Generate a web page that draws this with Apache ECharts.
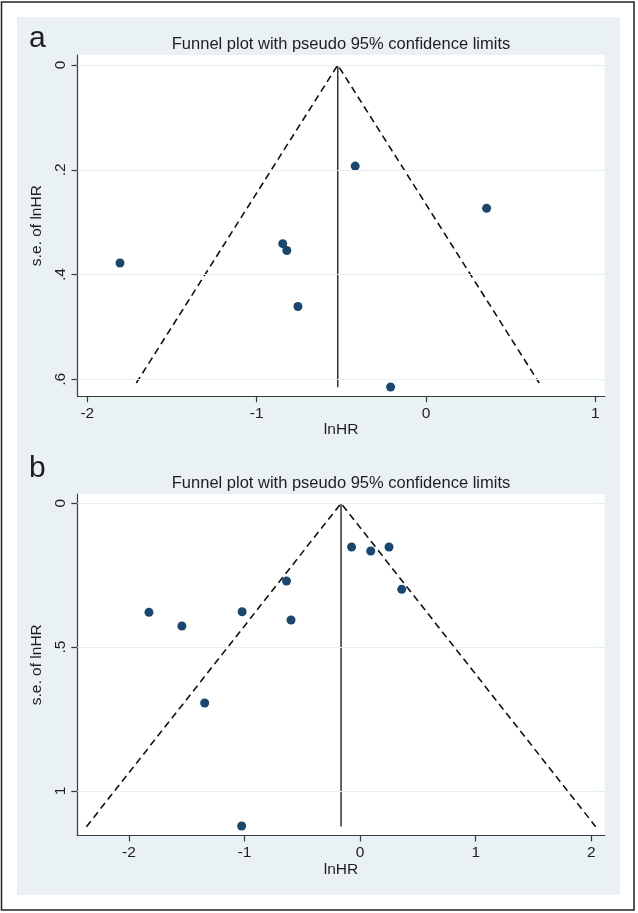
<!DOCTYPE html>
<html>
<head>
<meta charset="utf-8">
<script src="https://cdn.jsdelivr.net/npm/echarts@6/dist/echarts.min.js"></script>
<style>
html,body{margin:0;padding:0;background:#fff;}
#chart{width:638px;height:913px;}
</style>
</head>
<body>
<div id="chart"></div>
<script>
// ---- data ----
const titleText = "Funnel plot with pseudo 95% confidence limits";
const panelLabels = ["a", "b"];
const xName = "lnHR";
const yName = "s.e. of lnHR";

// panel a
const lnhrA = [-0.418, 0.358, -0.846, -0.822, -1.807, -0.756, -0.209];
const seA   = [0.193, 0.2735, 0.341, 0.354, 0.378, 0.461, 0.6146];
const pooledA = -0.521;
const seEdgeA = 0.607;
const seVertA = 0.615;
const xTicksA = [-2, -1, 0, 1];
const yTicksA = [0, 0.2, 0.4, 0.6];

// panel b
const lnhrB = [-0.074, 0.092, 0.250, -0.637, 0.360, -1.827, -1.542, -1.021, -0.598, -1.345, -1.025];
const seB   = [0.152, 0.166, 0.152, 0.270, 0.299, 0.379, 0.4265, 0.377, 0.4056, 0.694, 1.1217];
const pooledB = -0.165;
const seEdgeB = 1.124;
const seVertB = 1.123;
const xTicksB = [-2, -1, 0, 1, 2];
const yTicksB = [0, 0.5, 1];

const z = 1.96;

// ---- chart ----
const chart = echarts.init(document.getElementById('chart'), null, {renderer: 'canvas'});
const FONT = 'Liberation Sans, Arial, sans-serif';
const TXT = '#1e1e1e';
const NAVY = '#1a476f';
const GRIDC = '#e5eef1';

function fmt(v){ if (v === 0) return '0'; let s = String(v); return s.replace(/^0\./, '.').replace(/^-0\./, '-.'); }

function xAxisCfg(idx, min, max, ticks){
  return {
    gridIndex: idx, type: 'value', min: min, max: max,
    name: xName, nameLocation: 'middle', nameGap: 24,
    nameTextStyle: {fontFamily: FONT, fontSize: 15.5, color: TXT},
    axisLine: {show: true, onZero: false, lineStyle: {color: '#3a3a3a', width: 1.2}},
    axisTick: {show: true, length: 6, customValues: ticks, lineStyle: {color: '#3a3a3a', width: 1.2}},
    axisLabel: {show: true, customValues: ticks, margin: 9, fontFamily: FONT, fontSize: 15.5, color: TXT, formatter: fmt},
    splitLine: {show: false}
  };
}
function yAxisCfg(idx, min, max, ticks){
  return {
    gridIndex: idx, type: 'value', min: min, max: max, inverse: true,
    name: yName, nameLocation: 'middle', nameGap: 24, nameRotate: 90,
    nameTextStyle: {fontFamily: FONT, fontSize: 15.5, color: TXT},
    axisLine: {show: true, onZero: false, lineStyle: {color: '#3a3a3a', width: 1.2}},
    axisTick: {show: true, length: 6, customValues: ticks, lineStyle: {color: '#3a3a3a', width: 1.2}},
    axisLabel: {show: true, rotate: 90, customValues: ticks, margin: 9, fontFamily: FONT, fontSize: 15.5, color: TXT, formatter: fmt},
    splitLine: {show: false}
  };
}
function funnelSeries(idx, pooled, seEdge, seVert, lnhr, se, yTicks){
  return [
    {
      type: 'line', xAxisIndex: idx, yAxisIndex: idx, symbol: 'none', silent: true, z: 1,
      data: [],
      markLine: {
        silent: true, symbol: 'none', label: {show: false},
        lineStyle: {color: GRIDC, width: 1.2, type: 'solid'},
        data: yTicks.map(v => ({yAxis: v}))
      }
    },
    {
      type: 'line', xAxisIndex: idx, yAxisIndex: idx, symbol: 'none', silent: true, z: 2,
      lineStyle: {color: '#111', width: 1.6, type: [7, 4.5]},
      data: [[pooled - z * seEdge, seEdge], [pooled, 0], [pooled + z * seEdge, seEdge]]
    },
    {
      type: 'line', xAxisIndex: idx, yAxisIndex: idx, symbol: 'none', silent: true, z: 2,
      lineStyle: {color: '#333', width: 1.5, type: 'solid'},
      data: [[pooled, 0], [pooled, seVert]]
    },
    {
      type: 'scatter', xAxisIndex: idx, yAxisIndex: idx, symbol: 'circle', symbolSize: 9, z: 3,
      itemStyle: {color: NAVY, opacity: 1},
      data: lnhr.map((v, i) => [v, se[i]])
    }
  ];
}

const option = {
  backgroundColor: '#ffffff',
  animation: false,
  graphic: [
    {type: 'rect', z: -10, shape: {x: 1.5, y: 2, width: 632.5, height: 908}, style: {fill: '#ffffff', stroke: '#222', lineWidth: 1.5}},
    {type: 'rect', z: -9, shape: {x: 17, y: 17, width: 603, height: 878}, style: {fill: '#eaf1f4'}},
    {type: 'text', z: 10, style: {text: panelLabels[0], x: 29, y: 54, fontFamily: FONT, fontSize: 30, fill: TXT, textAlign: 'left', textVerticalAlign: 'bottom'}},
    {type: 'text', z: 10, style: {text: panelLabels[1], x: 29, y: 484, fontFamily: FONT, fontSize: 30, fill: TXT, textAlign: 'left', textVerticalAlign: 'bottom'}},
    {type: 'text', z: 10, style: {text: titleText, x: 341, y: 44, fontFamily: FONT, fontSize: 16.5, fill: TXT, textAlign: 'center', textVerticalAlign: 'middle'}},
    {type: 'text', z: 10, style: {text: titleText, x: 341, y: 483.5, fontFamily: FONT, fontSize: 16.5, fill: TXT, textAlign: 'center', textVerticalAlign: 'middle'}}
  ],
  grid: [
    {left: 77.5, top: 55, width: 527.2, height: 341.3, show: true, backgroundColor: '#ffffff', borderWidth: 0, containLabel: false},
    {left: 77.3, top: 494, width: 527.4, height: 341.4, show: true, backgroundColor: '#ffffff', borderWidth: 0, containLabel: false}
  ],
  xAxis: [
    xAxisCfg(0, -2.058, 1.0555, xTicksA),
    xAxisCfg(1, -2.447, 2.116, xTicksB)
  ],
  yAxis: [
    yAxisCfg(0, -0.0191, 0.6324, yTicksA),
    yAxisCfg(1, -0.0323, 1.1543, yTicksB)
  ],
  series: [].concat(
    funnelSeries(0, pooledA, seEdgeA, seVertA, lnhrA, seA, yTicksA),
    funnelSeries(1, pooledB, seEdgeB, seVertB, lnhrB, seB, yTicksB)
  )
};
chart.setOption(option);
</script>
</body>
</html>
